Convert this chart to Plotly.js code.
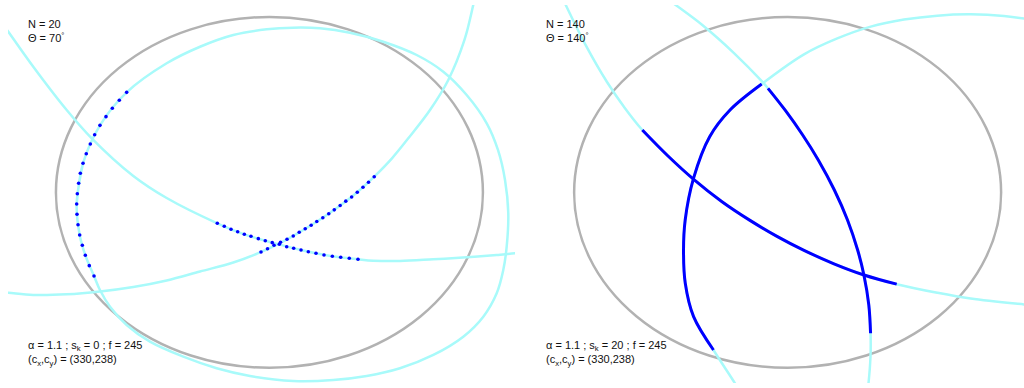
<!DOCTYPE html>
<html>
<head>
<meta charset="utf-8">
<script src="https://cdn.plot.ly/plotly-3.0.1.min.js"></script>
<style>
  html, body { margin: 0; padding: 0; background: #ffffff; }
  #chart { width: 1024px; height: 388px; }
</style>
</head>
<body>
<div id="chart"></div>
<script>
// Camera parameters shared by both views (image pixel coordinates, 640 x 480 frame)
const cx = 330, cy = 238, f = 245, alpha = 1.1;
const skewLeft = 0, skewRight = 20;
const nLeft = 20, nRight = 140;
const thetaLeft = 70, thetaRight = 140;

// ---- Left view: projected line curves (u, v in image pixels) ----
const leftLoopU = [86.7, 94.7, 116.1, 149.8, 200.3, 242.4, 284.4, 326.6, 360.1, 393.8, 431.7, 473.7, 515.9, 549.5, 579.0, 604.3, 618.5, 627.4, 631.5, 629.5, 625.2, 616.9, 600.0, 574.7, 536.9, 494.8, 452.8, 410.6, 360.1, 305.5, 263.4, 221.3, 179.2, 149.8, 128.8, 116.1, 108.6, 97.6, 90.5, 86.7, 94.7];
const leftLoopV = [252.7, 201.0, 152.8, 110.9, 74.0, 53.0, 38.1, 30.9, 28.8, 29.6, 35.2, 46.6, 63.5, 84.7, 114.3, 150.2, 184.1, 222.2, 264.1, 306.9, 336.5, 366.1, 395.8, 421.2, 444.4, 461.3, 471.1, 476.2, 477.4, 471.1, 461.3, 446.6, 427.5, 406.3, 383.1, 361.9, 344.1, 317.8, 292.1, 252.7, 201.0];

const leftFallU = [-17.7, 0.4, 31.9, 74.1, 105.7, 158.2, 200.3, 264.2, 298.3, 333.6, 369.9, 409.4, 441.8, 461.1, 494.8, 536.9, 579.0, 616.9, 640.0, 658.9];
const leftFallV = [8.9, 33.9, 78.3, 133.3, 169.3, 217.1, 245.1, 277.2, 291.2, 301.8, 311.1, 319.1, 322.9, 324.7, 325.1, 322.9, 320.4, 317.5, 315.3, 312.4];

const leftRiseU = [-17.7, 0.4, 31.9, 74.1, 116.1, 158.2, 200.3, 242.4, 284.4, 319.4, 352.2, 382.7, 411.9, 440.9, 462.3, 484.7, 505.3, 532.7, 555.8, 576.2, 587.3, 590.4];
const leftRiseV = [363.7, 365.3, 368.2, 367.4, 363.8, 358.1, 349.8, 338.4, 327.0, 313.6, 297.5, 279.7, 260.1, 237.7, 218.0, 194.7, 169.3, 133.3, 95.2, 44.4, 0.0, -14.0];

// ---- Left view: sampled points on each line ----
const ptsLoopU = [149.8, 140.5, 131.7, 123.7, 116.1, 109.4, 103.9, 98.8, 94.7, 91.3, 89.2, 87.5, 86.7, 87.1, 88.4, 90.5, 93.8, 97.6, 102.6, 108.6];
const ptsLoopV = [110.9, 121.0, 131.2, 141.8, 152.8, 164.7, 176.5, 188.8, 201.0, 213.7, 226.4, 239.6, 252.7, 265.8, 279.0, 292.1, 305.1, 317.8, 331.0, 344.1];

const ptsRiseU = [319.4, 327.6, 335.8, 344.0, 352.2, 360.1, 367.6, 375.2, 382.7, 389.8, 397.4, 404.9, 411.9, 419.3, 426.4, 433.8, 440.9, 448.1, 455.1, 462.3];
const ptsRiseV = [313.6, 309.5, 305.1, 301.2, 297.5, 293.3, 288.6, 284.2, 279.7, 274.9, 270.1, 265.0, 260.1, 254.6, 249.1, 243.8, 237.7, 231.4, 225.0, 218.0];

const ptsFallU = [264.2, 273.0, 281.5, 289.9, 298.3, 306.7, 316.0, 324.8, 333.6, 342.5, 351.8, 360.6, 369.9, 379.1, 388.8, 398.9, 409.4, 420.0, 430.8, 441.8];
const ptsFallV = [277.2, 281.0, 284.8, 287.9, 291.2, 293.7, 296.7, 299.3, 301.8, 303.9, 306.9, 308.9, 311.1, 313.3, 315.3, 317.5, 319.1, 320.4, 321.6, 322.9];

// ---- Right view: projected line curves ----
const rightFallU = [43.5, 49.9, 75.1, 102.0, 124.7, 146.6, 179.0, 211.8, 247.2, 282.5, 316.6, 350.7, 388.5, 426.4, 467.7, 518.9, 561.1, 628.4, 648.6];
const rightFallV = [-14.0, 0.0, 51.0, 97.8, 131.0, 158.7, 191.7, 221.7, 249.8, 273.5, 293.8, 311.6, 328.6, 342.8, 354.5, 365.4, 372.8, 380.3, 382.2];

const rightSteepU = [169.3, 188.7, 222.3, 262.3, 298.0, 305.2, 326.7, 349.0, 368.7, 389.0, 405.6, 418.4, 426.3, 432.5, 434.7, 434.6, 432.1, 430.2];
const rightSteepV = [-14.0, 0.0, 25.4, 61.0, 97.4, 105.8, 133.3, 165.1, 196.8, 234.9, 273.0, 311.1, 342.8, 380.9, 416.9, 447.0, 480.4, 495.2];

const rightArchU = [648.6, 603.1, 561.1, 518.9, 476.9, 434.9, 392.7, 350.7, 297.3, 257.3, 231.6, 211.2, 200.7, 198.6, 200.8, 211.3, 236.4, 263.6, 272.4];
const rightArchV = [20.3, 14.0, 11.9, 13.5, 18.5, 27.4, 42.4, 62.6, 100.3, 133.3, 167.2, 220.1, 273.0, 311.1, 353.4, 395.8, 438.1, 480.4, 495.2];

// ---- Right view: densely sampled segments ----
const segFallU = [146.6, 179.0, 211.8, 247.2, 282.5, 316.6, 350.7, 388.5, 426.4, 467.7];
const segFallV = [158.7, 191.7, 221.7, 249.8, 273.5, 293.8, 311.6, 328.6, 342.8, 354.5];

const segSteepU = [305.2, 326.7, 349.0, 368.7, 389.0, 405.6, 418.4, 426.3, 432.5, 434.7];
const segSteepV = [105.8, 133.3, 165.1, 196.8, 234.9, 273.0, 311.1, 342.8, 380.9, 416.9];

const segArchU = [297.3, 257.3, 231.6, 211.2, 200.7, 198.6, 200.8, 211.3, 236.4];
const segArchV = [100.3, 133.3, 167.2, 220.1, 273.0, 311.1, 353.4, 395.8, 438.1];

// ---- Styling ----
const CYAN = 'rgb(168,250,250)';
const BLUE = '#0000ff';
const GRAY = 'rgb(178,178,178)';
const FONT = 'Liberation Sans, Arial, sans-serif';

function curve(u, v, xa, ya) {
  return { type: 'scatter', mode: 'lines', x: u, y: v, xaxis: xa, yaxis: ya,
           line: { color: CYAN, width: 2.5, shape: 'spline', smoothing: 1 },
           hoverinfo: 'skip' };
}
function dots(u, v, xa, ya) {
  return { type: 'scatter', mode: 'markers', x: u, y: v, xaxis: xa, yaxis: ya,
           marker: { color: BLUE, size: 3.6, line: { width: 0 } }, hoverinfo: 'skip' };
}
function segment(u, v, xa, ya) {
  return { type: 'scatter', mode: 'lines', x: u, y: v, xaxis: xa, yaxis: ya,
           line: { color: BLUE, width: 3, shape: 'spline', smoothing: 1 }, hoverinfo: 'skip' };
}

const traces = [
  curve(leftLoopU, leftLoopV, 'x', 'y'),
  curve(leftFallU, leftFallV, 'x', 'y'),
  curve(leftRiseU, leftRiseV, 'x', 'y'),
  dots(ptsLoopU, ptsLoopV, 'x', 'y'),
  dots(ptsRiseU, ptsRiseV, 'x', 'y'),
  dots(ptsFallU, ptsFallV, 'x', 'y'),
  curve(rightFallU, rightFallV, 'x2', 'y2'),
  curve(rightSteepU, rightSteepV, 'x2', 'y2'),
  curve(rightArchU, rightArchV, 'x2', 'y2'),
  segment(segFallU, segFallV, 'x2', 'y2'),
  segment(segSteepU, segSteepV, 'x2', 'y2'),
  segment(segArchU, segArchV, 'x2', 'y2')
];

// Image-circle boundary (semi-axes from focal length and aspect ratio)
const rx = f * alpha, ry = f / alpha;
function boundary(xa, ya) {
  return { type: 'circle', xref: xa, yref: ya, layer: 'below',
           x0: cx - rx, x1: cx + rx, y0: cy - ry, y1: cy + ry,
           line: { color: GRAY, width: 2.5 } };
}

function headText(n, theta) {
  return 'N = ' + n + '<br>\u0398 = ' + theta + '<sup>\u00b0</sup>';
}
function footText(sk) {
  return '\u03b1 = ' + alpha + ' ; s<sub>k</sub> = ' + sk + ' ; f = ' + f +
         '<br>(c<sub>x</sub>,c<sub>y</sub>) = (' + cx + ',' + cy + ')';
}
function note(text, x, y) {
  return { text: text, xref: 'paper', yref: 'paper', x: x, y: y,
           xanchor: 'left', yanchor: 'top', align: 'left', showarrow: false,
           font: { family: FONT, size: 11, color: '#111111' } };
}

const W = 1024, H = 388;
const hidden = { visible: false, showgrid: false, zeroline: false, fixedrange: true };

const layout = {
  width: W, height: H,
  margin: { l: 0, r: 0, t: 0, b: 0, pad: 0 },
  paper_bgcolor: '#ffffff', plot_bgcolor: '#ffffff',
  showlegend: false,
  xaxis: Object.assign({}, hidden, { domain: [8 / W, 515 / W], range: [0, 640] }),
  yaxis: Object.assign({}, hidden, { domain: [5 / H, 383 / H], range: [480, 0] }),
  xaxis2: Object.assign({}, hidden, { domain: [526.2 / W, 1], range: [0, 628.4] }),
  yaxis2: Object.assign({}, hidden, { domain: [5 / H, 383 / H], range: [480, 0] }),
  shapes: [boundary('x', 'y'), boundary('x2', 'y2')],
  annotations: [
    note(headText(nLeft, thetaLeft), 26 / W, 1 - 16 / H),
    note(footText(skewLeft), 26 / W, 1 - 337 / H),
    note(headText(nRight, thetaRight), 544 / W, 1 - 16 / H),
    note(footText(skewRight), 544 / W, 1 - 337 / H)
  ]
};

Plotly.newPlot('chart', traces, layout, { staticPlot: true, displayModeBar: false });
</script>
</body>
</html>
